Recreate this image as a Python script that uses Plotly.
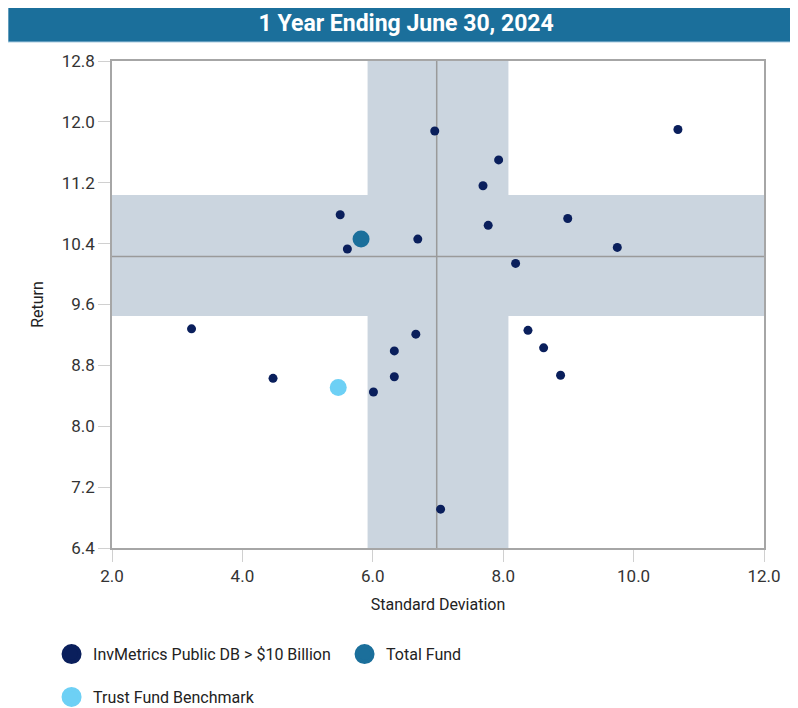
import plotly.graph_objects as go

# Universe: InvMetrics Public DB > $10 Billion (std dev, return)
peer_sd = [5.50, 5.61, 6.95, 10.68, 7.93, 7.69, 7.77, 8.99, 6.69, 9.75, 8.19,
           3.22, 6.33, 4.47, 6.01, 6.33, 6.66, 8.38, 8.62, 8.88, 7.04]
peer_ret = [10.78, 10.33, 11.88, 11.90, 11.50, 11.16, 10.64, 10.73, 10.46, 10.35, 10.14,
            9.28, 8.99, 8.63, 8.45, 8.65, 9.21, 9.26, 9.03, 8.67, 6.91]

fund_sd = [5.82]
fund_ret = [10.46]
bench_sd = [5.47]
bench_ret = [8.51]

# interquartile bands and medians of the universe
sd_band = [5.92, 8.08]
ret_band = [9.45, 11.04]
sd_median = 6.98
ret_median = 10.23

x_range = [2.0, 12.0]
y_range = [6.4, 12.8]
x_ticks = [2.0, 4.0, 6.0, 8.0, 10.0, 12.0]
y_ticks = [6.4, 7.2, 8.0, 8.8, 9.6, 10.4, 11.2, 12.0, 12.8]

NAVY = "#0a1f5c"
TEAL = "#1b6f9b"
LIGHT = "#6dd0f5"
BAND = "#cbd5df"

fig = go.Figure()

fig.add_trace(go.Scatter(x=peer_sd, y=peer_ret, mode="markers", showlegend=False,
                         marker=dict(color=NAVY, size=9)))
fig.add_trace(go.Scatter(x=fund_sd, y=fund_ret, mode="markers", showlegend=False,
                         marker=dict(color=TEAL, size=17)))
fig.add_trace(go.Scatter(x=bench_sd, y=bench_ret, mode="markers", showlegend=False,
                         marker=dict(color=LIGHT, size=17)))

# legend entries (bigger symbols than the plotted dots)
legend_items = [("InvMetrics Public DB > $10 Billion", NAVY, "legend"),
                ("Total Fund", TEAL, "legend"),
                ("Trust Fund Benchmark", LIGHT, "legend2")]
for name, col, leg in legend_items:
    fig.add_trace(go.Scatter(x=[None], y=[None], mode="markers", name=name, legend=leg,
                             marker=dict(color=col, size=16, line=dict(color=col, width=4))))

shapes = [
    # shaded bands
    dict(type="rect", xref="x", yref="y", x0=sd_band[0], x1=sd_band[1],
         y0=y_range[0], y1=y_range[1], fillcolor=BAND, line_width=0, layer="below"),
    dict(type="rect", xref="x", yref="y", x0=x_range[0], x1=x_range[1],
         y0=ret_band[0], y1=ret_band[1], fillcolor=BAND, line_width=0, layer="below"),
    # median lines
    dict(type="line", xref="x", yref="y", x0=sd_median, x1=sd_median,
         y0=y_range[0], y1=y_range[1], line=dict(color="#9a9a9a", width=1.5), layer="below"),
    dict(type="line", xref="x", yref="y", x0=x_range[0], x1=x_range[1],
         y0=ret_median, y1=ret_median, line=dict(color="#9a9a9a", width=1.5), layer="below"),
    # title bar
    dict(type="rect", xref="paper", yref="paper", x0=-0.1595, x1=1.07,
         y0=1.039, y1=1.115, fillcolor=TEAL, line=dict(color="#a9cbe0", width=1)),
]

axis_common = dict(showgrid=False, zeroline=False, showline=True, mirror=True,
                   linecolor="#a6a6a6", linewidth=1.5, ticks="outside",
                   tickcolor="#d0d0d0", tickformat=".1f", ticklen=12,
                   tickfont=dict(size=17, color="#333333"))

fig.update_layout(
    width=790, height=720,
    margin=dict(l=104, r=34, t=53, b=180),
    paper_bgcolor="white", plot_bgcolor="white",
    font=dict(family="Roboto", color="#222222"),
    shapes=shapes,
    title=dict(text="<b>1 Year Ending June 30, 2024</b>", x=0.504, xanchor="center",
               xref="container", y=1 - 15 / 720, yanchor="middle", yref="container",
               font=dict(size=23, color="white", family="Roboto")),
    xaxis=dict(axis_common, range=x_range, tickvals=x_ticks,
               title=dict(text="Standard Deviation", font=dict(size=16), standoff=14)),
    yaxis=dict(axis_common, range=y_range, tickvals=y_ticks,
               title=dict(text="Return", font=dict(size=16), standoff=14)),
    showlegend=True,
    legend=dict(orientation="h", x=-0.095, xanchor="left", y=-0.218, yanchor="middle",
                itemsizing="trace", itemwidth=33, entrywidth=245, font=dict(size=16),
                bgcolor="rgba(0,0,0,0)"),
    legend2=dict(orientation="h", x=-0.095, xanchor="left", y=-0.306, yanchor="middle",
                 itemsizing="trace", itemwidth=33, font=dict(size=16),
                 bgcolor="rgba(0,0,0,0)"),
)

fig.write_html("out.html")
